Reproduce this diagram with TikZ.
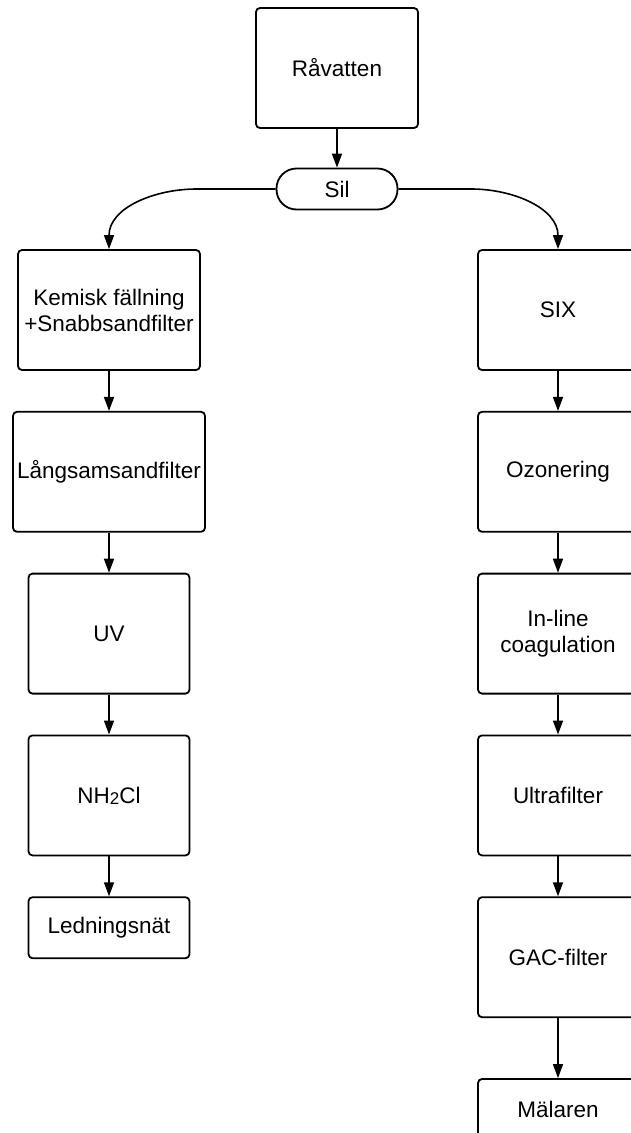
\documentclass[tikz,border=0pt]{standalone}
\usepackage{fontspec}
\setmainfont{Liberation Sans}
\usetikzlibrary{positioning,arrows.meta}

\begin{document}
\begin{tikzpicture}[
  x=1pt, y=1pt,
  node distance=40pt,
  box/.style={draw, rectangle, rounded corners=4pt, line width=1.8pt, minimum width=161pt, minimum height=120pt, align=center, inner sep=2pt, font=\fontsize{22.5}{26}\selectfont},
  pill/.style={draw, rectangle, rounded corners=20pt, line width=1.8pt, minimum width=121pt, minimum height=41pt, inner sep=2pt, font=\fontsize{22.5}{26}\selectfont},
  arrow/.style={-{Triangle[length=14pt,width=10pt]}, line width=1.6pt}
]
\useasboundingbox (0,0) rectangle (630,-1133);

\node[box, minimum width=162pt] (raw) at (337,-68) {Råvatten};
\node[pill] (sil) at (337,-189) {Sil};

% vänster gren
\node[box, minimum width=182pt] (kem) at (109,-310) {Kemisk fällning\\+Snabbsandfilter};
\node[box, minimum width=192pt, below=of kem] (lang) {Långsamsandfilter};
\node[box, below=of lang] (uv) {UV};
\node[box, below=of uv] (nh) {NH\raisebox{-1pt}{\fontsize{17}{17}\selectfont 2}Cl};
\node[box, minimum height=61pt, below=of nh] (led) {Ledningsnät};

% höger gren
\node[box, minimum width=160pt] (six) at (558,-310) {SIX};
\node[box, minimum width=160pt, below=of six] (ozon) {Ozonering};
\node[box, minimum width=160pt, below=of ozon] (inl) {In-line\\coagulation};
\node[box, minimum width=160pt, below=of inl] (ultra) {Ultrafilter};
\node[box, minimum width=160pt, below=of ultra] (gac) {GAC-filter};
\node[box, minimum width=160pt, minimum height=61pt, below=60pt of gac] (mal) {Mälaren};

\draw[arrow] (raw) -- (sil);
\draw[arrow] (sil.west) -- ++(-79,0) to[out=180, in=90] (kem.north);
\draw[arrow] (sil.east) -- ++(73,0) to[out=0, in=90] (six.north);

\draw[arrow] (kem) -- (lang);
\draw[arrow] (lang) -- (uv);
\draw[arrow] (uv) -- (nh);
\draw[arrow] (nh) -- (led);

\draw[arrow] (six) -- (ozon);
\draw[arrow] (ozon) -- (inl);
\draw[arrow] (inl) -- (ultra);
\draw[arrow] (ultra) -- (gac);
\draw[arrow] (gac) -- (mal);
\end{tikzpicture}
\end{document}
